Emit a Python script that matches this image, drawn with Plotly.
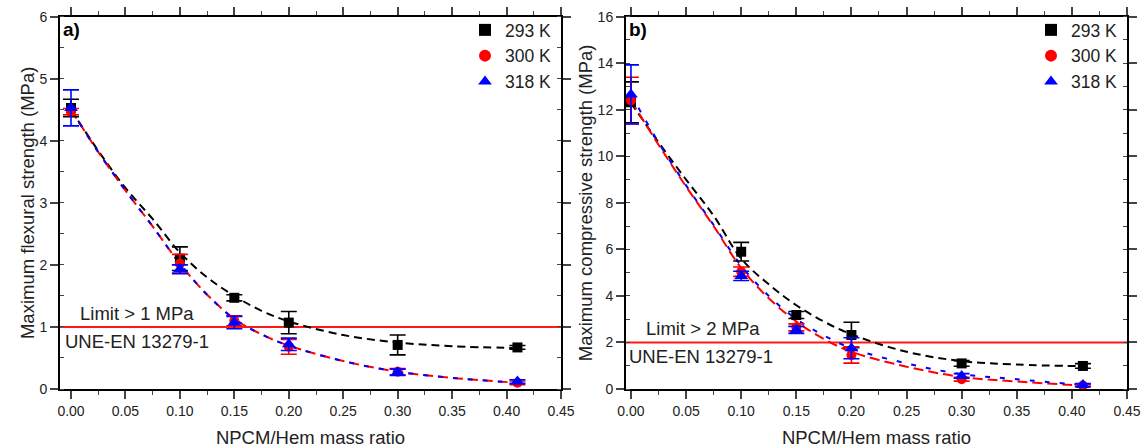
import plotly.graph_objects as go

# ---------------- data ----------------
ratio = [0.0, 0.10, 0.15, 0.20, 0.30, 0.41]
series_names = ["293 K", "300 K", "318 K"]

# (a) flexural strength, MPa
flex_293 = [4.53, 2.10, 1.47, 1.07, 0.71, 0.67]
flex_293_err = [0.14, 0.19, 0.05, 0.18, 0.16, 0.03]
flex_300 = [4.47, 2.02, 1.10, 0.68, 0.28, 0.10]
flex_300_err = [0.05, 0.15, 0.08, 0.12, 0.05, 0.03]
flex_318 = [4.53, 1.93, 1.07, 0.72, 0.27, 0.12]
flex_318_err = [0.29, 0.07, 0.10, 0.10, 0.05, 0.03]

# (b) compressive strength, MPa
comp_293 = [12.32, 5.90, 3.18, 2.32, 1.10, 0.99]
comp_293_err = [0.88, 0.40, 0.15, 0.55, 0.12, 0.10]
comp_300 = [12.40, 5.04, 2.65, 1.46, 0.42, 0.15]
comp_300_err = [1.00, 0.20, 0.15, 0.35, 0.08, 0.05]
comp_318 = [12.66, 4.86, 2.54, 1.75, 0.56, 0.17]
comp_318_err = [1.27, 0.20, 0.15, 0.45, 0.10, 0.06]

# fitted curves
fit_x = [0.0, 0.025, 0.05, 0.075, 0.10, 0.125, 0.15, 0.175, 0.20, 0.25, 0.30, 0.35, 0.41]
fit_flex_293 = [4.50, 3.84, 3.24, 2.74, 2.20, 1.80, 1.50, 1.26, 1.09, 0.87, 0.75, 0.69, 0.66]
fit_flex_300 = [4.50, 3.82, 3.20, 2.62, 2.02, 1.52, 1.13, 0.88, 0.70, 0.45, 0.28, 0.18, 0.10]
fit_flex_318 = [4.50, 3.82, 3.20, 2.62, 2.02, 1.52, 1.13, 0.88, 0.70, 0.45, 0.28, 0.18, 0.10]
fit_comp_293 = [12.30, 10.60, 9.00, 7.45, 5.60, 4.50, 3.60, 2.90, 2.35, 1.60, 1.20, 1.05, 0.98]
fit_comp_300 = [12.40, 10.50, 8.70, 7.00, 5.20, 3.90, 2.90, 2.15, 1.60, 0.96, 0.52, 0.32, 0.15]
fit_comp_318 = [12.65, 10.60, 8.75, 7.05, 5.30, 4.00, 3.00, 2.30, 1.75, 1.10, 0.64, 0.42, 0.17]

limit_a = 1.0
limit_b = 2.0

colors = ["#000000", "#ff0000", "#0000ff"]
symbols = ["square", "circle", "triangle-up"]
msizes = [10, 10, 12]

W, H = 1146, 448
FONT = "Liberation Sans, Arial, sans-serif"

fig = go.Figure()

def add_panel(xa, ya, legend, fits, vals, errs, limit):
    # limit line
    fig.add_trace(go.Scatter(x=[-0.05, 0.5], y=[limit, limit], mode="lines",
                             line=dict(color="#ff1a1a", width=2),
                             xaxis=xa, yaxis=ya, showlegend=False, hoverinfo="skip"))
    # fitted curves
    dashes = ["8px,5px", "10px,5px", "5px,10px"]
    for i in range(3):
        fig.add_trace(go.Scatter(x=fit_x, y=fits[i], mode="lines",
                                 line=dict(color=colors[i], width=2, dash=dashes[i], shape="spline", smoothing=1.0),
                                 xaxis=xa, yaxis=ya, showlegend=False, hoverinfo="skip"))
    # data points
    for i in range(3):
        fig.add_trace(go.Scatter(x=ratio, y=vals[i], mode="markers", name=series_names[i],
                                 marker=dict(color=colors[i], symbol=symbols[i], size=msizes[i]),
                                 error_y=dict(type="data", array=errs[i], color=colors[i],
                                              thickness=1.6, width=8),
                                 xaxis=xa, yaxis=ya, legend=legend))

add_panel("x", "y", "legend",
          [fit_flex_293, fit_flex_300, fit_flex_318],
          [flex_293, flex_300, flex_318],
          [flex_293_err, flex_300_err, flex_318_err], limit_a)
add_panel("x2", "y2", "legend2",
          [fit_comp_293, fit_comp_300, fit_comp_318],
          [comp_293, comp_300, comp_318],
          [comp_293_err, comp_300_err, comp_318_err], limit_b)

dom_y = [1 - 389 / H, 1 - 16.7 / H]
dom_xa = [60 / W, 561 / W]
dom_xb = [626 / W, 1127 / W]

def xaxis(domain, rng, anchor):
    return dict(domain=domain, range=rng, anchor=anchor, dtick=0.05, tick0=0,
                tickformat=".2f", ticks="outside", ticklen=8, tickwidth=1.5,
                minor=dict(dtick=0.025, ticks="outside", ticklen=4, tickwidth=1.2),
                showline=True, linecolor="black", linewidth=2, mirror="ticks",
                showgrid=False, zeroline=False, automargin=False,
                tickfont=dict(size=14, color="#222", family=FONT),
                title=dict(text="NPCM/Hem mass ratio", font=dict(size=18.5, color="#222", family=FONT), standoff=14))

def yaxis(domain, rng, dtick, mdtick, anchor, title):
    return dict(domain=domain, range=rng, anchor=anchor, dtick=dtick, tick0=0,
                ticks="outside", ticklen=8, tickwidth=1.5,
                minor=dict(dtick=mdtick, ticks="inside", ticklen=4, tickwidth=1.2),
                showline=True, linecolor="black", linewidth=2, mirror="ticks",
                showgrid=False, zeroline=False, automargin=False,
                tickfont=dict(size=14, color="#222", family=FONT),
                title=dict(text=title, font=dict(size=18.5, color="#222", family=FONT), standoff=0))

legend_common = dict(font=dict(size=17.5, color="#222", family=FONT), bgcolor="rgba(0,0,0,0)",
                     xanchor="right", yanchor="top", tracegroupgap=0, itemsizing="constant")

fig.update_layout(
    width=W, height=H, margin=dict(l=0, r=0, t=0, b=0),
    paper_bgcolor="white", plot_bgcolor="white",
    font=dict(family=FONT, color="#222"),
    xaxis=xaxis(dom_xa, [-0.0101, 0.45], "y"),
    yaxis=yaxis(dom_y, [0, 6], 1, 0.5, "x", "Maximum flexural strength (MPa)"),
    xaxis2=xaxis(dom_xb, [-0.0045, 0.45], "y2"),
    yaxis2=yaxis(dom_y, [0, 16], 2, 1, "x2", "Maximum compressive strength (MPa)"),
    legend=dict(x=557 / W, y=1 - 12 / H, **legend_common),
    legend2=dict(x=1123 / W, y=1 - 12 / H, **legend_common),
    annotations=[
        dict(text="<b>a)</b>", x=61 / W, y=1 - 30 / H, xref="paper", yref="paper",
             xanchor="left", yanchor="middle", showarrow=False, font=dict(size=19, color="black")),
        dict(text="<b>b)</b>", x=627 / W, y=1 - 30 / H, xref="paper", yref="paper",
             xanchor="left", yanchor="middle", showarrow=False, font=dict(size=19, color="black")),
        dict(text="Limit > 1 MPa", x=0.061, y=1.21, xref="x", yref="y", showarrow=False,
             xanchor="center", yanchor="middle", font=dict(size=18.5, color="#222")),
        dict(text="UNE-EN 13279-1", x=-0.0075, y=0.76, xref="x", yref="y", showarrow=False,
             xanchor="left", yanchor="middle", font=dict(size=18.5, color="#222")),
        dict(text="Limit > 2 MPa", x=0.065, y=2.61, xref="x2", yref="y2", showarrow=False,
             xanchor="center", yanchor="middle", font=dict(size=18.5, color="#222")),
        dict(text="UNE-EN 13279-1", x=-0.0035, y=1.39, xref="x2", yref="y2", showarrow=False,
             xanchor="left", yanchor="middle", font=dict(size=18.5, color="#222")),
    ],
)

fig.write_html("out.html")
